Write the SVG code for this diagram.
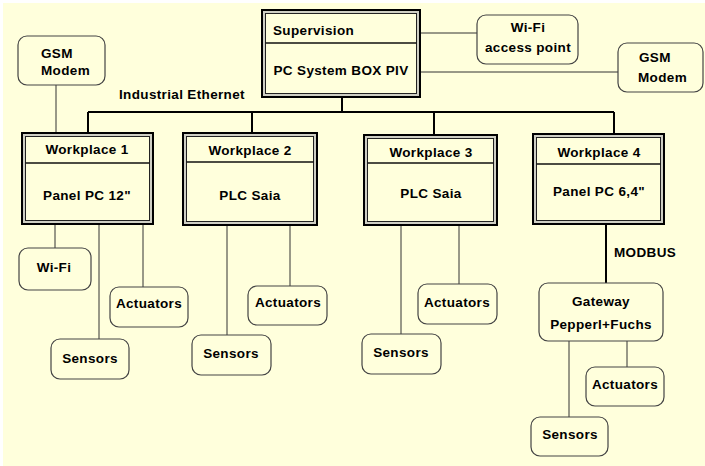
<svg xmlns="http://www.w3.org/2000/svg" width="705" height="466" viewBox="0 0 705 466">
<style>
text{font-family:"Liberation Sans",Arial,sans-serif;font-weight:bold;font-size:13.5px;letter-spacing:0.35px;fill:#000}
.c{text-anchor:middle}
.outer{fill:#cfcfc4;stroke:#000;stroke-width:2}
.inner{fill:#ffffdc;stroke:#222;stroke-width:1}
.div{stroke:#111;stroke-width:1.5}
.rb{fill:#ffffdc;stroke:#444;stroke-width:1.2}
.thin{stroke:#333;stroke-width:1;fill:none}
.bus{stroke:#000;stroke-width:2;fill:none}
</style>
<rect x="0" y="0" width="705" height="466" fill="#ffffff"/>
<rect x="3" y="3" width="702" height="463" fill="#ffffdc"/>
<g id="connectors">
<path class="bus" d="M342,97V112M88,112H614M88,112V133M252,112V133M434,112V135M614,112V134M606,223V283"/>
<path class="thin" d="M420,33H477M420,72H618M56,85V133M55,224V248M99,224V339M143,224V287M227,226V335M290,226V286M401,225V334M459,225V284M569,341V417M627,341V367"/>
</g>
<g id="label-ethernet"><text x="119" y="99">Industrial Ethernet</text></g>
<g id="label-modbus"><text x="614" y="257">MODBUS</text></g>
<g id="supervision">
<rect class="outer" x="262" y="10" width="158" height="87"/>
<rect class="inner" x="265.5" y="13.5" width="151" height="80"/>
<line class="div" x1="265.5" y1="43" x2="416.5" y2="43"/>
<text x="273" y="35">Supervision</text>
<text class="c" x="341" y="75">PC System BOX PIV</text>
</g>
<g id="wifi-ap">
<rect class="rb" x="477" y="15" width="101" height="49" rx="9"/>
<text class="c" x="528" y="32">Wi-Fi</text>
<text class="c" x="528" y="52">access point</text>
</g>
<g id="gsm-right">
<rect class="rb" x="618" y="43" width="85" height="49" rx="9"/>
<text x="639" y="62">GSM</text>
<text x="638" y="82">Modem</text>
</g>
<g id="gsm-left">
<rect class="rb" x="18" y="36" width="87" height="49" rx="9"/>
<text x="41" y="58">GSM</text>
<text x="41" y="75">Modem</text>
</g>
<g id="workplace1">
<rect class="outer" x="22" y="133" width="131" height="91"/>
<rect class="inner" x="25.5" y="136.5" width="124" height="84"/>
<line class="div" x1="25.5" y1="163" x2="149.5" y2="163"/>
<text class="c" x="87" y="154">Workplace 1</text>
<text class="c" x="87" y="200">Panel PC 12"</text>
</g>
<g id="workplace2">
<rect class="outer" x="183" y="133" width="134" height="92"/>
<rect class="inner" x="186.5" y="136.5" width="127" height="85"/>
<line class="div" x1="186.5" y1="162" x2="313.5" y2="162"/>
<text class="c" x="250" y="155">Workplace 2</text>
<text class="c" x="250" y="200">PLC Saia</text>
</g>
<g id="workplace3">
<rect class="outer" x="364" y="135" width="133" height="90"/>
<rect class="inner" x="367.5" y="138.5" width="126" height="83"/>
<line class="div" x1="367.5" y1="163" x2="493.5" y2="163"/>
<text class="c" x="431" y="157">Workplace 3</text>
<text class="c" x="431" y="198">PLC Saia</text>
</g>
<g id="workplace4">
<rect class="outer" x="533" y="134" width="131" height="90"/>
<rect class="inner" x="536.5" y="137.5" width="124" height="83"/>
<line class="div" x1="536.5" y1="164" x2="660.5" y2="164"/>
<text class="c" x="599" y="157">Workplace 4</text>
<text class="c" x="599" y="196">Panel PC 6,4"</text>
</g>
<g id="wifi1">
<rect class="rb" x="19" y="248" width="72" height="42" rx="9"/>
<text class="c" x="54" y="272">Wi-Fi</text>
</g>
<g id="actuators1">
<rect class="rb" x="110" y="287" width="78" height="40" rx="9"/>
<text class="c" x="149" y="308">Actuators</text>
</g>
<g id="sensors1">
<rect class="rb" x="51" y="339" width="78" height="40" rx="9"/>
<text class="c" x="90" y="363">Sensors</text>
</g>
<g id="actuators2">
<rect class="rb" x="248" y="286" width="79" height="39" rx="9"/>
<text class="c" x="288" y="307">Actuators</text>
</g>
<g id="sensors2">
<rect class="rb" x="192" y="335" width="79" height="40" rx="9"/>
<text class="c" x="231" y="358">Sensors</text>
</g>
<g id="actuators3">
<rect class="rb" x="418" y="284" width="79" height="40" rx="9"/>
<text class="c" x="457" y="307">Actuators</text>
</g>
<g id="sensors3">
<rect class="rb" x="362" y="334" width="79" height="40" rx="9"/>
<text class="c" x="401" y="357">Sensors</text>
</g>
<g id="gateway">
<rect class="rb" x="539" y="283" width="124" height="58" rx="9"/>
<text class="c" x="601" y="306">Gateway</text>
<text class="c" x="601" y="329">Pepperl+Fuchs</text>
</g>
<g id="actuators4">
<rect class="rb" x="586" y="367" width="78" height="39" rx="9"/>
<text class="c" x="625" y="389">Actuators</text>
</g>
<g id="sensors4">
<rect class="rb" x="531" y="417" width="77" height="39" rx="9"/>
<text class="c" x="570" y="439">Sensors</text>
</g>
</svg>
